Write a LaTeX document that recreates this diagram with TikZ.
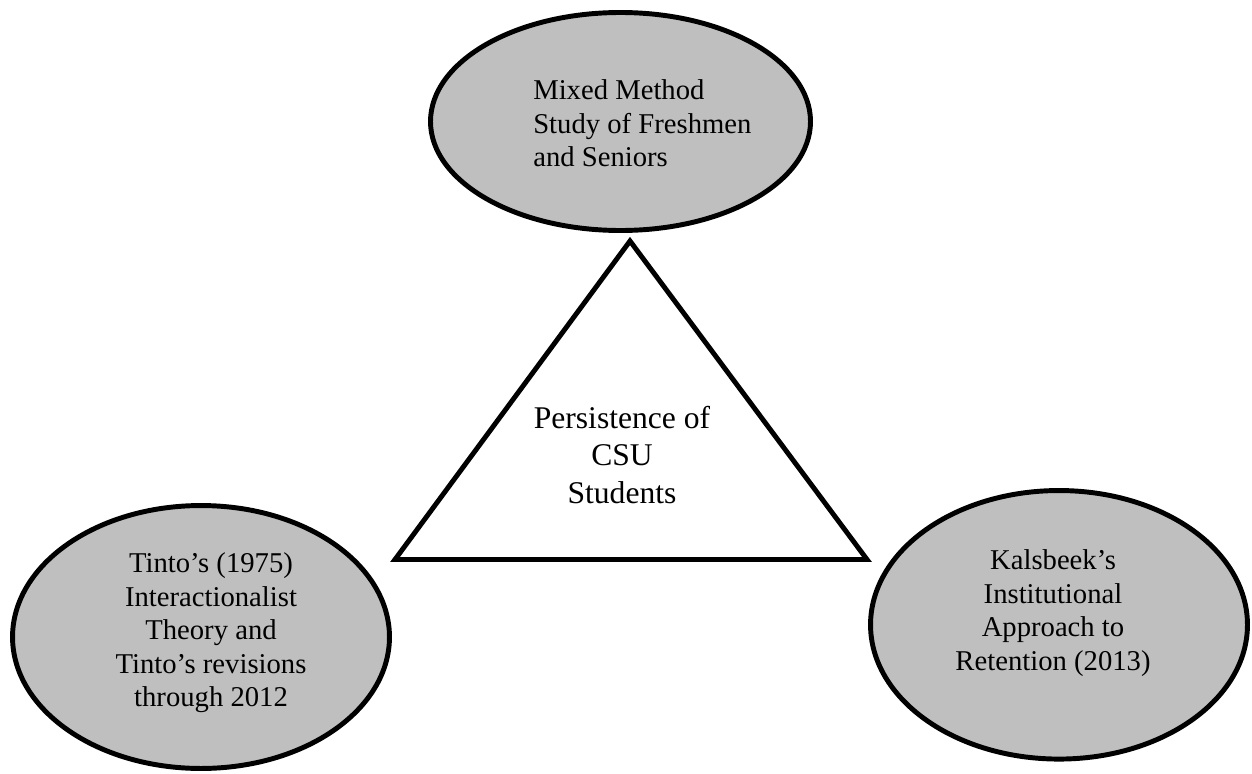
\documentclass[tikz,border=0pt]{standalone}
\usepackage{fontspec}
\setmainfont{Liberation Serif}
\usepackage{xcolor}
\usepackage{tikz}
\usetikzlibrary{shapes}
\definecolor{ovalgray}{RGB}{191,191,191}

\begin{document}
\begin{tikzpicture}[x=0.75pt,y=-0.75pt,
		oval/.style={ellipse,draw,fill=ovalgray,line width=3.7pt,inner sep=0pt},
		ovaltext/.style={inner sep=0pt,font=\fontsize{21.5}{25.1}\selectfont},
		tritext/.style={inner sep=0pt,align=center,font=\fontsize{23.7}{28.1}\selectfont}]
				\useasboundingbox (0,0) rectangle (1252,774);
				\node[oval,minimum width=285pt,minimum height=163.5pt] (study) at (620.5,121.5) {};
				\node[oval,minimum width=282.7pt,minimum height=197.2pt] (tinto) at (201,637) {};
				\node[oval,minimum width=282.7pt,minimum height=201.4pt] (kalsbeek) at (1059,624.8) {};
				\coordinate (apex) at (630,241);
				\coordinate (baseL) at (395,559.5);
				\coordinate (baseR) at (867,559.5);
				\draw[line width=3.7pt] (apex) -- (baseL) -- (baseR) -- cycle;
				\node[ovaltext,align=left,anchor=west] (studytext) at (533,123.4) {Mixed Method\\Study of Freshmen\\and Seniors};
				\node[ovaltext,align=center] (tintotext) at (211,633) {Tinto’s (1975)\\Interactionalist\\Theory and\\Tinto’s revisions\\through 2012};
				\node[ovaltext,align=center] (kalsbeektext) at (1053,613) {Kalsbeek’s\\Institutional\\Approach to\\Retention (2013)};
				\node[tritext] (csu) at (622,455) {Persistence of\\CSU\\Students};
			\end{tikzpicture}
\end{document}
